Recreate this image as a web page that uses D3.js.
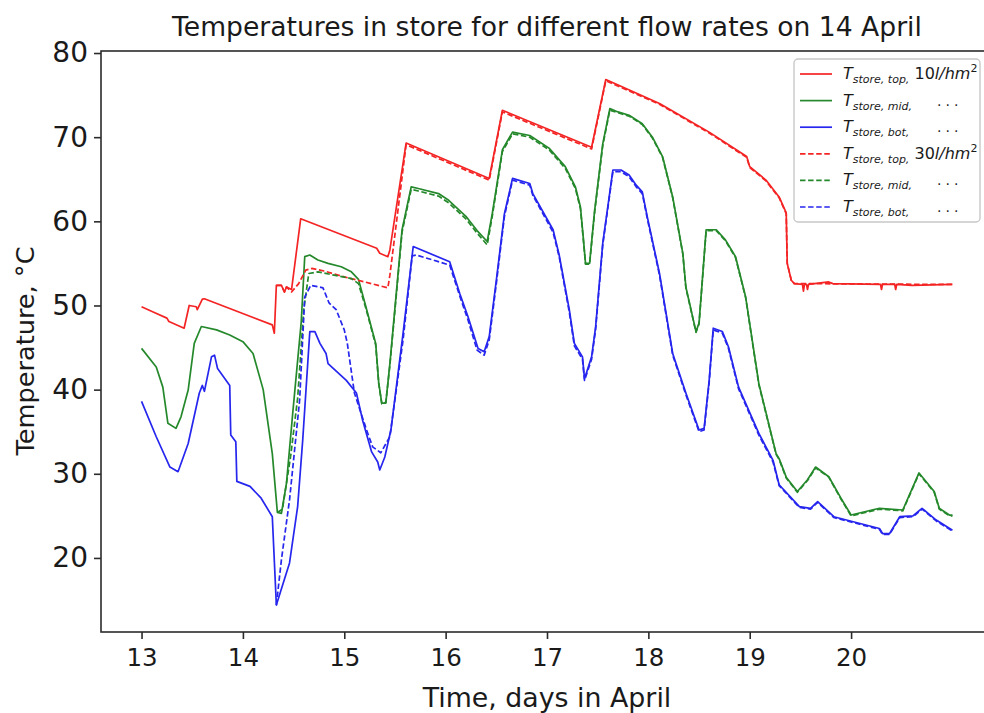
<!DOCTYPE html>
<html>
<head>
<meta charset="utf-8">
<script src="https://cdn.jsdelivr.net/npm/d3@7/dist/d3.min.js"></script>
<style>
  body { margin: 0; background: #fff; }
  svg { display: block; }
  text { font-family: "DejaVu Sans", sans-serif; fill: #1a1a1a; }
</style>
</head>
<body>
<svg id="chart" width="984" height="713"></svg>
<script>
// ---- data: [day in April, temperature °C] ----
const top10 = [[13.00,49.85],[13.12,49.2],[13.25,48.5],[13.27,48.1],[13.42,47.3],[13.47,50.0],[13.54,49.85],[13.55,49.5],[13.60,50.76],[13.62,50.8],[14.29,47.7],[14.31,46.7],[14.33,52.4],[14.38,52.4],[14.41,51.6],[14.43,52.2],[14.48,51.9],[14.57,60.3],[15.32,56.8],[15.35,56.2],[15.43,55.8],[15.45,56.6],[15.61,69.3],[16.43,65.1],[16.56,73.2],[17.44,68.8],[17.58,76.85],[18.11,74.0],[18.60,70.6],[18.97,67.7],[19.00,66.5],[19.16,64.9],[19.29,62.9],[19.36,61.0],[19.37,55.0],[19.41,53.0],[19.44,52.6],[19.52,52.5],[19.53,51.7],[19.54,52.5],[19.56,52.5],[19.57,51.9],[19.58,52.5],[19.78,52.8],[19.82,52.6],[20.29,52.5],[20.30,51.9],[20.31,52.5],[20.43,52.5],[20.44,51.9],[20.45,52.5],[20.60,52.4],[21.00,52.5]];

const mid10 = [[13.00,44.9],[13.145,42.7],[13.21,40.3],[13.26,36.0],[13.34,35.4],[13.39,36.8],[13.46,39.95],[13.52,45.5],[13.59,47.5],[13.74,47.1],[13.87,46.5],[14.00,45.7],[14.10,44.3],[14.20,40.0],[14.29,32.4],[14.34,25.4],[14.38,25.3],[14.43,28.9],[14.49,37.0],[14.575,48.0],[14.61,55.8],[14.66,56.0],[14.74,55.4],[14.84,55.0],[14.97,54.6],[15.07,54.0],[15.14,53.1],[15.21,50.0],[15.31,45.5],[15.34,40.8],[15.37,38.4],[15.41,38.4],[15.45,43.1],[15.57,59.0],[15.66,64.1],[15.73,63.9],[15.93,63.3],[16.03,62.5],[16.20,60.6],[16.31,58.9],[16.41,57.6],[16.46,60.9],[16.56,68.5],[16.66,70.6],[16.83,70.2],[17.02,68.7],[17.18,66.5],[17.28,64.1],[17.33,61.7],[17.36,57.8],[17.38,55.0],[17.42,55.0],[17.47,61.3],[17.55,69.2],[17.62,73.4],[17.70,73.0],[17.81,72.6],[17.94,71.6],[18.04,70.0],[18.14,67.7],[18.24,62.9],[18.34,56.2],[18.37,52.2],[18.47,46.9],[18.50,47.9],[18.57,59.0],[18.67,59.0],[18.76,57.8],[18.86,55.8],[18.96,51.0],[19.09,40.7],[19.26,32.4],[19.29,31.8],[19.36,29.6],[19.47,27.9],[19.57,29.3],[19.65,30.8],[19.78,29.65],[19.90,27.1],[20.00,25.1],[20.28,25.9],[20.51,25.7],[20.67,30.1],[20.82,27.9],[20.87,25.9],[20.97,25.1],[21.00,25.1]];

const bot10 = [[13.00,38.6],[13.145,34.4],[13.28,30.8],[13.36,30.25],[13.46,33.6],[13.57,39.6],[13.60,40.5],[13.62,39.8],[13.69,43.9],[13.72,44.1],[13.75,42.5],[13.87,40.5],[13.88,34.6],[13.93,33.8],[13.94,29.1],[14.07,28.5],[14.18,27.1],[14.29,24.9],[14.33,14.4],[14.46,19.4],[14.54,26.1],[14.59,34.0],[14.66,46.9],[14.71,46.9],[14.76,45.5],[14.82,44.3],[14.84,43.1],[15.02,41.1],[15.12,39.6],[15.18,36.4],[15.27,32.6],[15.33,31.4],[15.35,30.45],[15.40,32.0],[15.46,35.2],[15.58,46.7],[15.68,57.0],[16.04,55.2],[16.14,51.4],[16.22,48.7],[16.32,44.9],[16.38,44.5],[16.43,46.3],[16.50,53.0],[16.58,60.9],[16.66,65.1],[16.83,64.5],[16.86,63.3],[17.06,59.0],[17.12,56.0],[17.22,49.5],[17.27,45.5],[17.35,43.9],[17.37,41.3],[17.44,43.9],[17.48,47.5],[17.55,57.4],[17.65,66.1],[17.73,66.1],[17.81,65.5],[17.88,64.3],[17.94,63.5],[17.99,60.5],[18.11,53.8],[18.24,44.3],[18.37,39.6],[18.50,35.2],[18.55,35.4],[18.60,41.1],[18.64,47.3],[18.73,46.9],[18.79,45.1],[18.89,40.3],[19.09,34.8],[19.23,31.6],[19.29,28.7],[19.49,26.1],[19.60,25.9],[19.67,26.7],[19.83,24.9],[20.28,23.5],[20.31,22.9],[20.38,22.9],[20.48,24.9],[20.61,25.0],[20.70,25.9],[20.84,24.5],[21.00,23.3]];

const top30 = [[14.33,52.4],[14.38,52.4],[14.41,51.6],[14.43,52.2],[14.48,51.6],[14.55,52.6],[14.62,54.2],[14.68,54.4],[14.80,54.1],[15.00,53.4],[15.20,52.8],[15.43,52.1],[15.45,53.6],[15.61,69.1],[16.43,64.9],[16.56,73.0],[17.44,68.6],[17.58,76.7],[18.11,73.9],[18.60,70.5],[18.97,67.6],[19.00,66.4],[19.16,64.8],[19.29,62.8],[19.36,60.9],[19.37,55.0],[19.41,53.0],[19.44,52.6],[21.00,52.5]];

const mid30 = [[14.34,25.4],[14.39,25.8],[14.47,32.0],[14.54,39.0],[14.60,49.5],[14.65,53.8],[14.74,54.0],[14.90,53.6],[15.07,53.2],[15.14,52.6],[15.21,49.8],[15.31,45.3],[15.34,40.7],[15.37,38.3],[15.41,38.5],[15.45,42.9],[15.57,58.7],[15.66,63.8],[15.73,63.6],[15.93,63.0],[16.03,62.2],[16.20,60.3],[16.31,58.6],[16.41,57.2],[16.46,60.6],[16.56,68.3],[16.66,70.4],[16.83,70.0],[17.02,68.5],[17.18,66.3],[17.28,63.9],[17.33,61.5],[17.36,57.6],[17.38,54.9],[17.42,54.9],[17.47,61.1],[17.55,69.0],[17.62,73.2],[17.70,72.9],[17.81,72.5],[17.94,71.5],[18.04,69.9],[18.14,67.6],[18.24,62.8],[18.34,56.1],[18.37,52.1],[18.47,46.8],[18.50,47.8],[18.57,58.9],[18.67,58.9],[18.76,57.7],[18.86,55.7],[18.96,50.9],[19.09,40.6],[19.26,32.3],[19.29,31.7],[19.36,29.5],[19.47,27.8],[19.57,29.2],[19.65,30.7],[19.78,29.6],[19.90,27.0],[20.00,25.0],[20.28,25.8],[20.51,25.6],[20.67,30.0],[20.82,27.8],[20.87,25.8],[20.97,25.0],[21.00,25.0]];

const bot30 = [[14.33,14.4],[14.38,19.8],[14.46,26.9],[14.56,38.8],[14.61,51.0],[14.67,52.4],[14.79,52.1],[14.85,50.3],[14.92,49.5],[15.00,47.1],[15.03,45.5],[15.10,39.6],[15.22,35.2],[15.28,33.2],[15.36,32.5],[15.45,34.4],[15.58,45.9],[15.67,55.9],[15.71,56.0],[16.04,54.8],[16.14,51.1],[16.22,48.3],[16.31,44.7],[16.38,44.1],[16.43,45.9],[16.50,52.6],[16.58,60.6],[16.66,64.9],[16.83,64.3],[16.86,63.1],[17.06,58.7],[17.12,55.8],[17.22,49.2],[17.27,45.2],[17.35,43.6],[17.37,41.1],[17.44,43.6],[17.48,47.2],[17.55,57.2],[17.65,65.9],[17.73,65.9],[17.81,65.3],[17.88,64.1],[17.94,63.3],[17.99,60.3],[18.11,53.6],[18.24,44.1],[18.37,39.4],[18.50,35.0],[18.55,35.2],[18.60,40.9],[18.64,47.1],[18.73,46.7],[18.79,44.9],[18.89,40.1],[19.09,34.6],[19.23,31.4],[19.29,28.6],[19.49,26.0],[19.60,25.8],[19.67,26.6],[19.83,24.8],[20.28,23.4],[20.31,22.8],[20.38,22.8],[20.48,24.8],[20.61,24.9],[20.70,25.8],[20.84,24.4],[21.00,23.2]];

const xTicks = [13, 14, 15, 16, 17, 18, 19, 20];
const yTicks = [20, 30, 40, 50, 60, 70, 80];
const layerNames = ["top", "mid", "bot"];
const flowRates = ["10", "30"];

const titleText = "Temperatures in store for different flow rates on 14 April";
const xLabel = "Time, days in April";
const yLabel = "Temperature, °C";

// ---- layout ----
const svg = d3.select("#chart");
const plot = { left: 101, top: 51, right: 993, bottom: 632 };
const colors = { top: "#f42424", mid: "#25892c", bot: "#2626ee" };
const dashPattern = "5.5,2.6";

const x = d3.scaleLinear().domain([12.6, 21.4]).range([plot.left, plot.right]);
const y = d3.scaleLinear().domain([11.2, 80.24]).range([plot.bottom, plot.top]);

const series = [
  { data: top10, layer: layerNames[0], flow: 0 },
  { data: mid10, layer: layerNames[1], flow: 0 },
  { data: bot10, layer: layerNames[2], flow: 0 },
  { data: top30, layer: layerNames[0], flow: 1 },
  { data: mid30, layer: layerNames[1], flow: 1 },
  { data: bot30, layer: layerNames[2], flow: 1 }
];

svg.append("clipPath").attr("id", "plotClip")
  .append("rect")
  .attr("x", plot.left).attr("y", plot.top)
  .attr("width", plot.right - plot.left).attr("height", plot.bottom - plot.top);

const line = d3.line().x(d => x(d[0])).y(d => y(d[1]));

svg.append("g").attr("clip-path", "url(#plotClip)")
  .selectAll("path").data(series).join("path")
  .attr("d", s => line(s.data))
  .attr("fill", "none")
  .attr("stroke", s => colors[s.layer])
  .attr("stroke-width", 1.7)
  .attr("stroke-linejoin", "round")
  .attr("stroke-dasharray", s => s.flow === 1 ? dashPattern : null);

// ---- axes ----
const axisColor = "#2b2b2b";
const gx = svg.append("g").attr("transform", `translate(0,${plot.bottom})`)
  .call(d3.axisBottom(x).tickValues(xTicks).tickFormat(d3.format("d")).tickSize(7).tickPadding(10));
const gy = svg.append("g").attr("transform", `translate(${plot.left},0)`)
  .call(d3.axisLeft(y).tickValues(yTicks).tickFormat(d3.format("d")).tickSize(7).tickPadding(6));
[gx, gy].forEach(g => {
  g.select(".domain").remove();
  g.selectAll(".tick line").attr("stroke", axisColor).attr("stroke-width", 1.6);
  g.selectAll(".tick text").attr("font-family", "DejaVu Sans").attr("fill", "#1a1a1a");
});
gx.selectAll(".tick text").attr("font-size", 24.5);
gy.selectAll(".tick text").attr("font-size", 28);

svg.append("rect")
  .attr("x", plot.left).attr("y", plot.top)
  .attr("width", plot.right - plot.left).attr("height", plot.bottom - plot.top)
  .attr("fill", "none").attr("stroke", axisColor).attr("stroke-width", 1.6);

// ---- titles ----
svg.append("text").attr("x", (plot.left + plot.right) / 2).attr("y", 36)
  .attr("text-anchor", "middle").attr("font-size", 26.6).text(titleText);
svg.append("text").attr("x", (plot.left + plot.right) / 2).attr("y", 707)
  .attr("text-anchor", "middle").attr("font-size", 26.8).text(xLabel);
svg.append("text").attr("transform", `translate(34,351) rotate(-90)`)
  .attr("text-anchor", "middle").attr("font-size", 25.6).text(yLabel);

// ---- legend ----
const leg = svg.append("g");
leg.append("rect").attr("x", 794).attr("y", 59).attr("width", 186).attr("height", 163)
  .attr("rx", 4).attr("fill", "#fff").attr("fill-opacity", 0.85)
  .attr("stroke", "#c8c8c8").attr("stroke-width", 1.4);

series.forEach((s, i) => {
  const cy = 74 + i * 26.6;
  leg.append("line").attr("x1", 800).attr("x2", 832).attr("y1", cy).attr("y2", cy)
    .attr("stroke", colors[s.layer]).attr("stroke-width", 1.7)
    .attr("stroke-dasharray", s.flow === 1 ? dashPattern : null);
  const t = leg.append("text").attr("x", 843).attr("y", cy + 5).attr("font-size", 16);
  t.append("tspan").attr("font-style", "italic").text("T");
  t.append("tspan").attr("font-style", "italic").attr("font-size", 11).attr("dy", 4)
    .text("store, " + s.layer + ",");
  t.append("tspan").attr("dy", -4).text(" ");
  const firstOfFlow = series.findIndex(o => o.flow === s.flow) === i;
  if (firstOfFlow) {
    t.append("tspan").text(flowRates[s.flow]);
    t.append("tspan").attr("font-style", "italic").text("l/hm");
    t.append("tspan").attr("font-size", 11).attr("dy", -7).text("2");
  } else {
    leg.append("text").attr("x", 937).attr("y", cy + 5).attr("font-size", 14)
      .attr("letter-spacing", 4).text("...");
  }
});
</script>
</body>
</html>
